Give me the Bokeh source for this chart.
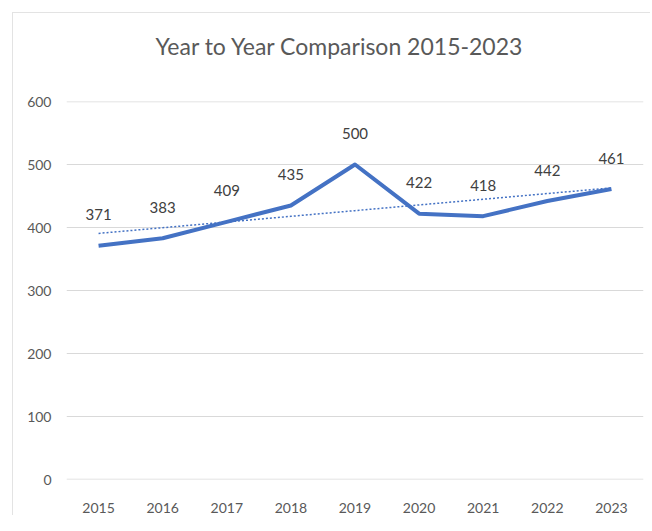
import numpy as np
from bokeh.plotting import figure
from bokeh.models import Range1d, FactorRange, ColumnDataSource, Span, Title
from bokeh.core.properties import value
from bokeh.embed import file_html
from bokeh.resources import INLINE

years = ["2015", "2016", "2017", "2018", "2019", "2020", "2021", "2022", "2023"]
counts = [371, 383, 409, 435, 500, 422, 418, 442, 461]
y_ticks = [0, 100, 200, 300, 400, 500, 600]
title_text = "Year to Year Comparison 2015-2023"

FONT = "Lato"
BLUE = "#4472C4"
GRID = "#d9d9d9"

p = figure(
    x_range=FactorRange(*years, range_padding=0),
    y_range=Range1d(0, 600),
    width=650, height=515,
    output_backend="svg", toolbar_location=None,
    min_border_left=66, min_border_right=7, min_border_top=101, min_border_bottom=30,
)
# light chart-area border (top and left edges visible in the reference)
p.border_fill_color = None
p.styles = {
    "background": "linear-gradient(#e3e3e3, #e3e3e3) 12px 12px / 1px 100% no-repeat, "
                  "linear-gradient(#e3e3e3, #e3e3e3) 12px 12px / 100% 1px no-repeat, white",
}

p.title.text = title_text
p.title.align = "left"
p.title.offset = 89
p.title.text_font = FONT
p.title.text_font_size = "23px"
p.title.text_font_style = "normal"
p.title.text_color = "#595959"
p.title.standoff = 10

# empty spacer title between the title and the plot area
p.add_layout(Title(text=" ", text_font_size="1px", standoff=34), "above")

p.outline_line_color = None
p.xgrid.grid_line_color = None
p.ygrid.grid_line_color = GRID
p.ygrid.grid_line_width = 1
p.yaxis.ticker = y_ticks
for v in (y_ticks[0], y_ticks[-1]):
    p.add_layout(Span(location=v, dimension="width", line_color=GRID, line_width=1.5, level="underlay"))

for ax in (p.xaxis, p.yaxis):
    ax.axis_line_color = None
    ax.major_tick_line_color = None
    ax.minor_tick_line_color = None
    ax.major_label_text_font = FONT
    ax.major_label_text_font_size = "14px"
    ax.major_label_text_color = "#595959"
p.yaxis.major_label_standoff = 9
p.xaxis.major_label_standoff = 17

src = ColumnDataSource(dict(x=years, y=counts, lab=[str(v) for v in counts]))

# linear trendline (least squares of the data, as a spreadsheet trendline)
idx = np.arange(len(counts))
slope, intercept = np.polyfit(idx, counts, 1)
trend = list(intercept + slope * idx)
p.line(years, trend, line_color=BLUE, line_width=1.5, line_dash="2 2")

p.line("x", "y", source=src, line_color=BLUE, line_width=4, line_join="round")

p.text("x", "y", text="lab", source=src, text_align="center", text_baseline="middle",
       y_offset=-31, text_font=value(FONT), text_font_size="15px", text_color="#404040")

open("out.html", "w").write(file_html(p, INLINE))
